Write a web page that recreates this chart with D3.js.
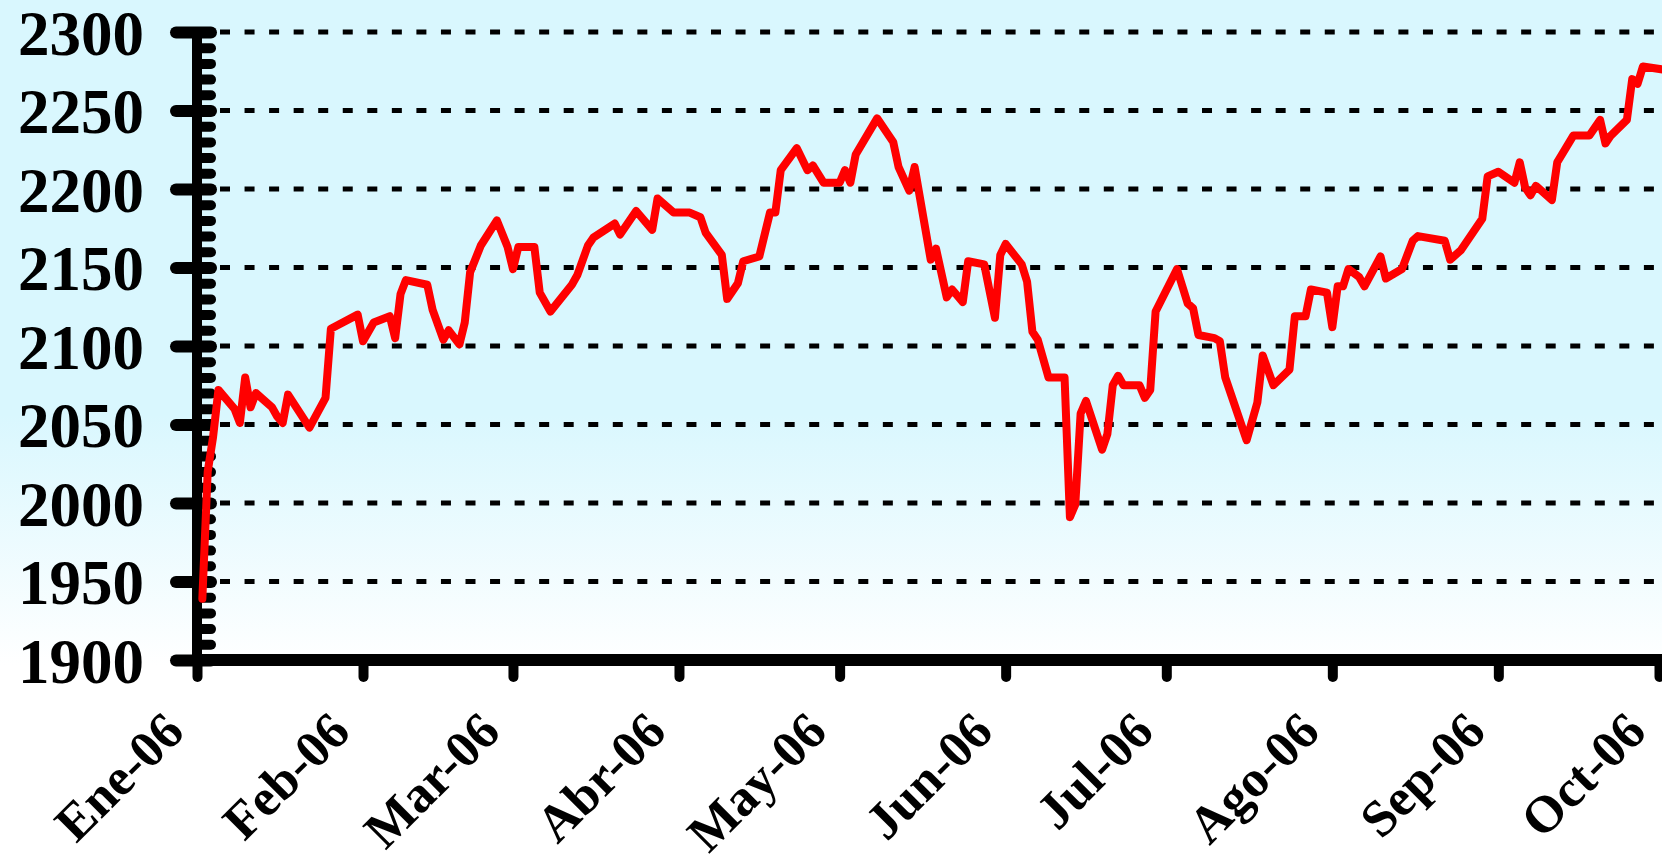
<!DOCTYPE html>
<html>
<head>
<meta charset="utf-8">
<script src="https://cdn.jsdelivr.net/npm/d3@7"></script>
<style>
   html, body { margin:0; padding:0; background:#fff; }
   svg { display:block; }
   text { font-family:"Liberation Serif","Times New Roman",serif; font-weight:bold; fill:#000; }
</style>
</head>
<body>
<svg id="chart" width="1662" height="864"></svg>
<script>
// index closes (trading days where the line turns)
var dates = [
   '2006-01-02','2006-01-03','2006-01-04','2006-01-05','2006-01-08','2006-01-09','2006-01-10','2006-01-11',
   '2006-01-12','2006-01-15','2006-01-16','2006-01-17','2006-01-18','2006-01-22','2006-01-25','2006-01-26',
   '2006-01-31','2006-02-01','2006-02-03','2006-02-06','2006-02-07','2006-02-08','2006-02-09','2006-02-13',
   '2006-02-14','2006-02-16','2006-02-17','2006-02-19','2006-02-20','2006-02-21','2006-02-23','2006-02-26',
   '2006-02-28','2006-03-01','2006-03-02','2006-03-05','2006-03-06','2006-03-08','2006-03-12','2006-03-13',
   '2006-03-15','2006-03-16','2006-03-20','2006-03-21','2006-03-24','2006-03-27','2006-03-28','2006-03-31',
   '2006-04-03','2006-04-05','2006-04-06','2006-04-09','2006-04-10','2006-04-12','2006-04-13','2006-04-16',
   '2006-04-18','2006-04-19','2006-04-20','2006-04-23','2006-04-25','2006-04-26','2006-04-28','2006-05-01',
   '2006-05-02','2006-05-03','2006-05-04','2006-05-08','2006-05-11','2006-05-12','2006-05-14','2006-05-15',
   '2006-05-18','2006-05-19','2006-05-21','2006-05-22','2006-05-24','2006-05-25','2006-05-28','2006-05-30',
   '2006-05-31','2006-06-01','2006-06-04','2006-06-05','2006-06-06','2006-06-07','2006-06-09','2006-06-12',
   '2006-06-13','2006-06-14','2006-06-15','2006-06-16','2006-06-19','2006-06-20','2006-06-21','2006-06-22',
   '2006-06-23','2006-06-26','2006-06-27','2006-06-28','2006-06-29','2006-07-03','2006-07-05','2006-07-06',
   '2006-07-07','2006-07-10','2006-07-11','2006-07-12','2006-07-16','2006-07-18','2006-07-19','2006-07-21',
   '2006-07-24','2006-07-25','2006-07-27','2006-07-28','2006-07-31','2006-08-01','2006-08-02','2006-08-03',
   '2006-08-04','2006-08-06','2006-08-07','2006-08-10','2006-08-11','2006-08-14','2006-08-16','2006-08-17',
   '2006-08-22','2006-08-23','2006-08-25','2006-08-29','2006-08-30','2006-09-01','2006-09-04','2006-09-05',
   '2006-09-06','2006-09-07','2006-09-08','2006-09-11','2006-09-12','2006-09-15','2006-09-18','2006-09-20',
   '2006-09-21','2006-09-22','2006-09-25','2006-09-26','2006-09-27','2006-09-28','2006-10-02'
];
var values = [
   1939,2020,2042,2072,2060,2051,2080,2061,
   2070,2061,2055,2051,2069,2048,2067,2111,
   2120,2103,2115,2119,2105,2133,2142,2139,
   2123,2104,2110,2101,2115,2147,2164,2180,
   2163,2149,2163,2163,2134,2122,2139,2145,
   2164,2169,2178,2171,2186,2174,2194,2185,
   2185,2182,2172,2158,2130,2140,2154,2157,
   2185,2185,2212,2226,2212,2215,2204,2204,
   2212,2204,2222,2245,2230,2214,2199,2214,
   2155,2162,2131,2136,2128,2154,2152,2118,
   2158,2165,2152,2141,2109,2104,2080,2080,
   1991,1999,2057,2065,2034,2044,2075,2081,
   2075,2075,2067,2072,2122,2149,2127,2124,
   2107,2105,2103,2080,2040,2064,2094,2075,
   2085,2119,2119,2136,2134,2112,2138,2138,
   2149,2144,2138,2157,2143,2149,2167,2170,
   2167,2155,2161,2181,2208,2211,2204,2217,
   2201,2196,2202,2193,2217,2234,2234,2244,
   2229,2234,2244,2270,2267,2278,2276
];
var yTicks = [1900,1950,2000,2050,2100,2150,2200,2250,2300];
var monthLabels = ['Ene-06','Feb-06','Mar-06','Abr-06','May-06','Jun-06','Jul-06','Ago-06','Sep-06','Oct-06'];

(function(){
   var W = 1662, H = 864;
   var svg = d3.select('#chart');
   var parse = d3.timeParse('%Y-%m-%d');
   var data = dates.map(function(d, i){ return {date: parse(d), value: values[i]}; });

   var x = d3.scaleTime()
      .domain([new Date(2006,0,1), new Date(2006,9,1)])
      .range([197, 1659]);
   var y = d3.scaleLinear()
      .domain([1900, 2300])
      .range([660, 32]);
   var x0 = x.range()[0], y0 = y.range()[0];

   // background, light cyan fading to white near the bottom
   var grad = svg.append('defs').append('linearGradient')
      .attr('id', 'bg')
      .attr('gradientUnits', 'userSpaceOnUse')
      .attr('x1', 0).attr('y1', 0).attr('x2', 0).attr('y2', H);
   grad.append('stop').attr('offset', 0).attr('stop-color', '#d9f7fe');
   grad.append('stop').attr('offset', 0.48).attr('stop-color', '#d9f7fe');
   grad.append('stop').attr('offset', 0.77).attr('stop-color', '#ffffff');
   grad.append('stop').attr('offset', 1).attr('stop-color', '#ffffff');
   svg.append('rect').attr('width', W).attr('height', H).attr('fill', 'url(#bg)');

   // dotted grid
   svg.append('g').selectAll('line')
      .data(yTicks.filter(function(v){ return v > 1900; }))
      .enter().append('line')
      .attr('x1', 220).attr('x2', W)
      .attr('y1', function(d){ return y(d); })
      .attr('y2', function(d){ return y(d); })
      .attr('stroke', '#000')
      .attr('stroke-width', 5)
      .attr('stroke-dasharray', '10 14.55');

   // minor ticks every 10
   var minor = d3.range(1900, 2300, 10).filter(function(v){ return v % 50 !== 0; });
   var gMinor = svg.append('g')
      .attr('transform', 'translate(' + x0 + ',0)')
      .call(d3.axisRight(y).tickValues(minor).tickSize(14).tickFormat(''));
   gMinor.select('.domain').remove();
   gMinor.selectAll('.tick line')
      .attr('stroke', '#000').attr('stroke-width', 10).attr('stroke-linecap', 'round');

   // y axis
   var gy = svg.append('g')
      .attr('transform', 'translate(' + x0 + ',0)')
      .call(d3.axisLeft(y).tickValues(yTicks).tickSize(0).tickPadding(53)
         .tickFormat(d3.format('d')));
   gy.select('.domain').remove();
   gy.append('line')
      .attr('x1', 0).attr('x2', 0)
      .attr('y1', 28).attr('y2', y0)
      .attr('stroke', '#000').attr('stroke-width', 10);
   gy.selectAll('.tick line')
      .attr('x1', -21).attr('x2', 14)
      .attr('stroke', '#000').attr('stroke-width', 12).attr('stroke-linecap', 'round');
   gy.selectAll('.tick text')
      .attr('dy', '0.35em')
      .style('font-size', '63px')
      .style('font-family', '"Liberation Serif","Times New Roman",serif')
      .style('font-weight', 'bold');

   // x axis
   var months = d3.timeMonth.range(new Date(2006,0,1), new Date(2006,9,2));
   var gx = svg.append('g')
      .attr('transform', 'translate(0,' + y0 + ')')
      .call(d3.axisBottom(x).tickValues(months).tickSize(0)
         .tickFormat(function(d, i){ return monthLabels[i]; }));
   gx.select('.domain').remove();
   gx.append('line')
      .attr('x1', 192).attr('x2', W)
      .attr('y1', 0).attr('y2', 0)
      .attr('stroke', '#000').attr('stroke-width', 12);
   gx.selectAll('.tick line')
      .attr('y1', 0).attr('y2', 17)
      .attr('stroke', '#000').attr('stroke-width', 10).attr('stroke-linecap', 'round');
   gx.selectAll('.tick text')
      .attr('x', 0).attr('y', 0).attr('dy', 0)
      .attr('text-anchor', 'end')
      .attr('transform', 'translate(-11,74) rotate(-45)')
      .style('font-size', '52px')
      .style('font-family', '"Liberation Serif","Times New Roman",serif')
      .style('font-weight', 'bold');

   // the series
   var line = d3.line()
      .x(function(d){ return x(d.date); })
      .y(function(d){ return y(d.value); });
   svg.append('path')
      .datum(data)
      .attr('d', line)
      .attr('fill', 'none')
      .attr('stroke', '#ff0000')
      .attr('stroke-width', 8)
      .attr('stroke-linejoin', 'round')
      .attr('stroke-linecap', 'round');
})();
</script>
</body>
</html>
